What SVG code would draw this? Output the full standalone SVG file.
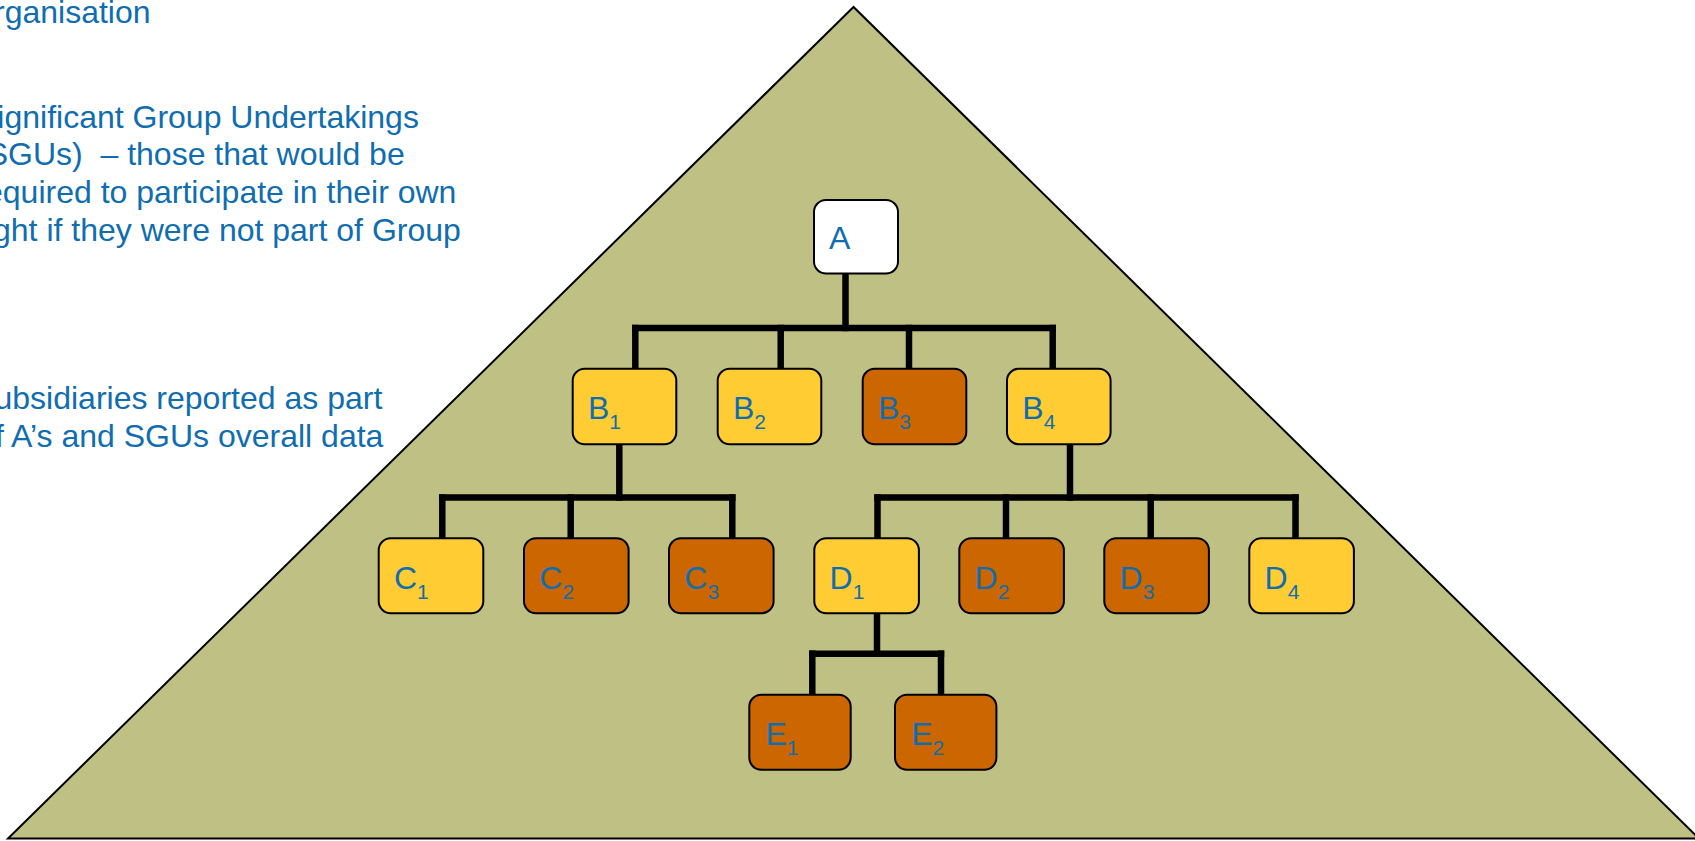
<svg xmlns="http://www.w3.org/2000/svg" width="1695" height="841" viewBox="0 0 1695 841">
<style>
  text { font-family: "Liberation Sans", Arial, sans-serif; fill: #0F6DB0; }
  .side { font-size: 32px; white-space: pre; }
  .lbl { font-size: 32px; }
  .sub { font-size: 21px; }
  .box { stroke: #000; stroke-width: 2; }
  .light { fill: #FFCC33; }
  .dark { fill: #CC6600; }
  .white { fill: #FFFFFF; }
  .wire { stroke: #000; stroke-width: 6.5; fill: none; stroke-linecap: square; }
</style>
<rect x="0" y="0" width="1695" height="841" fill="#FFFFFF"/>
<g id="pyramid">
  <polygon points="853.5,7 8,838.5 1699,838.5" fill="#BFC084" stroke="#000" stroke-width="2" stroke-linejoin="miter"/>
</g>
<g id="side-text" class="side">
  <text class="side" x="-6" y="23.3">rganisation</text>
  <text class="side" x="-2.7" y="127.5">ignificant Group Undertakings</text>
  <text class="side" x="-13.3" y="165.2" xml:space="preserve">SGUs)  – those that would be</text>
  <text class="side" x="-15" y="202.9">equired to participate in their own</text>
  <text class="side" x="-7" y="240.6">ght if they were not part of Group</text>
  <text class="side" x="-5.5" y="409">ubsidiaries reported as part</text>
  <text class="side" x="-5" y="446.7">f A’s and SGUs overall data</text>
</g>
<g id="connectors">
  <line class="wire" x1="845.5" y1="276" x2="845.5" y2="328"/>
  <line class="wire" x1="635.3" y1="328" x2="1052.7" y2="328"/>
  <line class="wire" x1="635.3" y1="328" x2="635.3" y2="366"/>
  <line class="wire" x1="780.7" y1="328" x2="780.7" y2="366"/>
  <line class="wire" x1="909" y1="328" x2="909" y2="366"/>
  <line class="wire" x1="1052.7" y1="328" x2="1052.7" y2="366"/>
  <line class="wire" x1="619.3" y1="447" x2="619.3" y2="497.5"/>
  <line class="wire" x1="442.3" y1="497.5" x2="732.3" y2="497.5"/>
  <line class="wire" x1="442.3" y1="497.5" x2="442.3" y2="536"/>
  <line class="wire" x1="570.7" y1="497.5" x2="570.7" y2="536"/>
  <line class="wire" x1="732.3" y1="497.5" x2="732.3" y2="536"/>
  <line class="wire" x1="1070" y1="446" x2="1070" y2="497.5"/>
  <line class="wire" x1="877.5" y1="497.5" x2="1295.5" y2="497.5"/>
  <line class="wire" x1="877.5" y1="497.5" x2="877.5" y2="536"/>
  <line class="wire" x1="1006" y1="497.5" x2="1006" y2="536"/>
  <line class="wire" x1="1150.7" y1="497.5" x2="1150.7" y2="536"/>
  <line class="wire" x1="1295.5" y1="497.5" x2="1295.5" y2="536"/>
  <line class="wire" x1="877" y1="616" x2="877" y2="653.7"/>
  <line class="wire" x1="812.3" y1="653.7" x2="941" y2="653.7"/>
  <line class="wire" x1="812.3" y1="653.7" x2="812.3" y2="692"/>
  <line class="wire" x1="941" y1="653.7" x2="941" y2="692"/>
</g>
<g id="node-A">
  <rect class="box white" x="814" y="200" width="84" height="73.5" rx="12"/>
  <text class="lbl" x="829" y="249">A</text>
</g>
<g id="node-B1">
  <rect class="box light" x="572.7" y="368.7" width="103.6" height="75.5" rx="12"/>
  <text class="lbl" x="588" y="418.7">B<tspan class="sub" dy="10.6">1</tspan></text>
</g>
<g id="node-B2">
  <rect class="box light" x="717.7" y="368.7" width="103.6" height="75.5" rx="12"/>
  <text class="lbl" x="733" y="418.7">B<tspan class="sub" dy="10.6">2</tspan></text>
</g>
<g id="node-B3">
  <rect class="box dark" x="862.7" y="368.7" width="103.6" height="75.5" rx="12"/>
  <text class="lbl" x="878" y="418.7">B<tspan class="sub" dy="10.6">3</tspan></text>
</g>
<g id="node-B4">
  <rect class="box light" x="1007" y="368.7" width="103.6" height="75.5" rx="12"/>
  <text class="lbl" x="1022.3" y="418.7">B<tspan class="sub" dy="10.6">4</tspan></text>
</g>
<g id="node-C1">
  <rect class="box light" x="378.7" y="538.3" width="104.6" height="75" rx="12"/>
  <text class="lbl" x="394" y="588.5">C<tspan class="sub" dy="10.6">1</tspan></text>
</g>
<g id="node-C2">
  <rect class="box dark" x="524" y="538.3" width="104.6" height="75" rx="12"/>
  <text class="lbl" x="539.3" y="588.5">C<tspan class="sub" dy="10.6">2</tspan></text>
</g>
<g id="node-C3">
  <rect class="box dark" x="669" y="538.3" width="104.6" height="75" rx="12"/>
  <text class="lbl" x="684.3" y="588.5">C<tspan class="sub" dy="10.6">3</tspan></text>
</g>
<g id="node-D1">
  <rect class="box light" x="814.3" y="538.3" width="104.6" height="75" rx="12"/>
  <text class="lbl" x="829.6" y="588.5">D<tspan class="sub" dy="10.6">1</tspan></text>
</g>
<g id="node-D2">
  <rect class="box dark" x="959.3" y="538.3" width="104.6" height="75" rx="12"/>
  <text class="lbl" x="974.6" y="588.5">D<tspan class="sub" dy="10.6">2</tspan></text>
</g>
<g id="node-D3">
  <rect class="box dark" x="1104.3" y="538.3" width="104.6" height="75" rx="12"/>
  <text class="lbl" x="1119.6" y="588.5">D<tspan class="sub" dy="10.6">3</tspan></text>
</g>
<g id="node-D4">
  <rect class="box light" x="1249.3" y="538.3" width="104.6" height="75" rx="12"/>
  <text class="lbl" x="1264.6" y="588.5">D<tspan class="sub" dy="10.6">4</tspan></text>
</g>
<g id="node-E1">
  <rect class="box dark" x="749.3" y="694.7" width="101.4" height="75" rx="12"/>
  <text class="lbl" x="765.5" y="744.5">E<tspan class="sub" dy="10.6">1</tspan></text>
</g>
<g id="node-E2">
  <rect class="box dark" x="895" y="694.7" width="101.4" height="75" rx="12"/>
  <text class="lbl" x="911.2" y="744.5">E<tspan class="sub" dy="10.6">2</tspan></text>
</g>
</svg>
